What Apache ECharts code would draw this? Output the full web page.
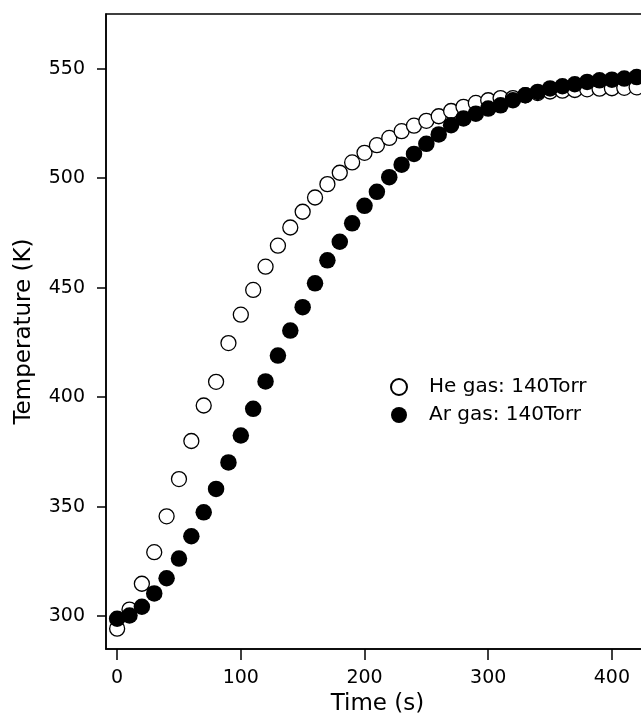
<!DOCTYPE html>
<html>
<head>
<meta charset="utf-8">
<script src="https://cdn.jsdelivr.net/npm/echarts@6/dist/echarts.min.js"></script>
<style>
  html, body { margin: 0; padding: 0; background: #fff; }
  #chart { width: 641px; height: 719px; }
</style>
</head>
<body>
<div id="chart"></div>
<script>
// Sample times (s)
const timeSeconds = [0, 10, 20, 30, 40, 50, 60, 70, 80, 90, 100, 110, 120, 130, 140, 150,
  160, 170, 180, 190, 200, 210, 220, 230, 240, 250, 260, 270, 280, 290, 300, 310,
  320, 330, 340, 350, 360, 370, 380, 390, 400, 410, 420];

// Temperature (K), He gas at 140 Torr
const heTemps = [294.3, 303.0, 314.8, 329.2, 345.6, 362.6, 380.0, 396.2, 407.0, 424.7,
  437.7, 449.0, 459.6, 469.2, 477.5, 484.7, 491.2, 497.3, 502.5, 507.2, 511.6, 515.1,
  518.4, 521.5, 524.0, 526.2, 528.3, 530.7, 532.6, 534.4, 535.6, 536.6, 536.6, 537.9,
  538.9, 539.6, 540.0, 540.3, 540.6, 540.9, 541.1, 541.3, 541.5];

// Temperature (K), Ar gas at 140 Torr
const arTemps = [298.8, 300.3, 304.3, 310.4, 317.3, 326.3, 336.5, 347.4, 358.1, 370.2,
  382.5, 394.7, 407.2, 419.0, 430.4, 441.1, 452.0, 462.5, 471.0, 479.4, 487.4, 493.8,
  500.5, 506.2, 511.1, 515.7, 520.0, 524.2, 527.3, 529.5, 531.8, 533.3, 535.6, 537.9,
  539.4, 541.0, 542.0, 542.9, 544.0, 544.7, 545.0, 545.5, 546.2];

const xTickValues = [0, 100, 200, 300, 400];
const yTickValues = [300, 350, 400, 450, 500, 550];

const seriesNames = ['He gas: 140Torr', 'Ar gas: 140Torr'];

const FONT = '"DejaVu Sans", sans-serif';

const pairs = (ys) => timeSeconds.map((t, i) => [t, ys[i]]);

const chart = echarts.init(document.getElementById('chart'), null, { renderer: 'canvas' });

const axisCommon = {
  type: 'value',
  nameLocation: 'middle',
  nameTextStyle: { fontFamily: FONT, fontSize: 23, color: '#000' },
  axisLine: { show: true, onZero: false, lineStyle: { color: '#000', width: 1.5 } },
  splitLine: { show: false },
};

chart.setOption({
  backgroundColor: '#fff',
  animation: false,
  grid: {
    // the plot frame runs past the right edge of the canvas
    left: 106, right: -8, top: 14, bottom: 70,
    outerBoundsMode: 'none',
    containLabel: false,
    show: true, borderColor: '#000', borderWidth: 1.5, backgroundColor: 'transparent'
  },
  legend: {
    orient: 'vertical',
    left: 390, top: 377,
    padding: 0,
    itemWidth: 50, itemHeight: 16, itemGap: 8,
    textStyle: { fontFamily: FONT, fontSize: 20, color: '#000', lineHeight: 20 },
    data: seriesNames.map(n => ({ name: n, icon: 'circle' }))
  },
  xAxis: Object.assign({}, axisCommon, {
    min: -9, max: 430,
    name: 'Time (s)',
    nameGap: 43,
    axisTick: { show: true, customValues: xTickValues, length: 11, lineStyle: { color: '#000', width: 1.5 } },
    axisLabel: { customValues: xTickValues, fontFamily: FONT, fontSize: 19, color: '#000', margin: 20 }
  }),
  yAxis: Object.assign({}, axisCommon, {
    min: 285, max: 575,
    name: 'Temperature (K)',
    nameGap: 70,
    axisTick: { show: true, customValues: yTickValues, length: 9, lineStyle: { color: '#000', width: 1.5 } },
    axisLabel: { customValues: yTickValues, fontFamily: FONT, fontSize: 19, color: '#000', margin: 21 }
  }),
  series: [
    {
      name: seriesNames[0],
      type: 'scatter',
      symbol: 'circle',
      symbolSize: 15,
      itemStyle: { color: '#fff', borderColor: '#000', borderWidth: 1.3, opacity: 1 },
      data: pairs(heTemps),
      z: 2
    },
    {
      name: seriesNames[1],
      type: 'scatter',
      symbol: 'circle',
      symbolSize: 16.5,
      itemStyle: { color: '#000', borderColor: '#000', borderWidth: 0, opacity: 1 },
      data: pairs(arTemps),
      z: 3
    }
  ]
});
</script>
</body>
</html>
